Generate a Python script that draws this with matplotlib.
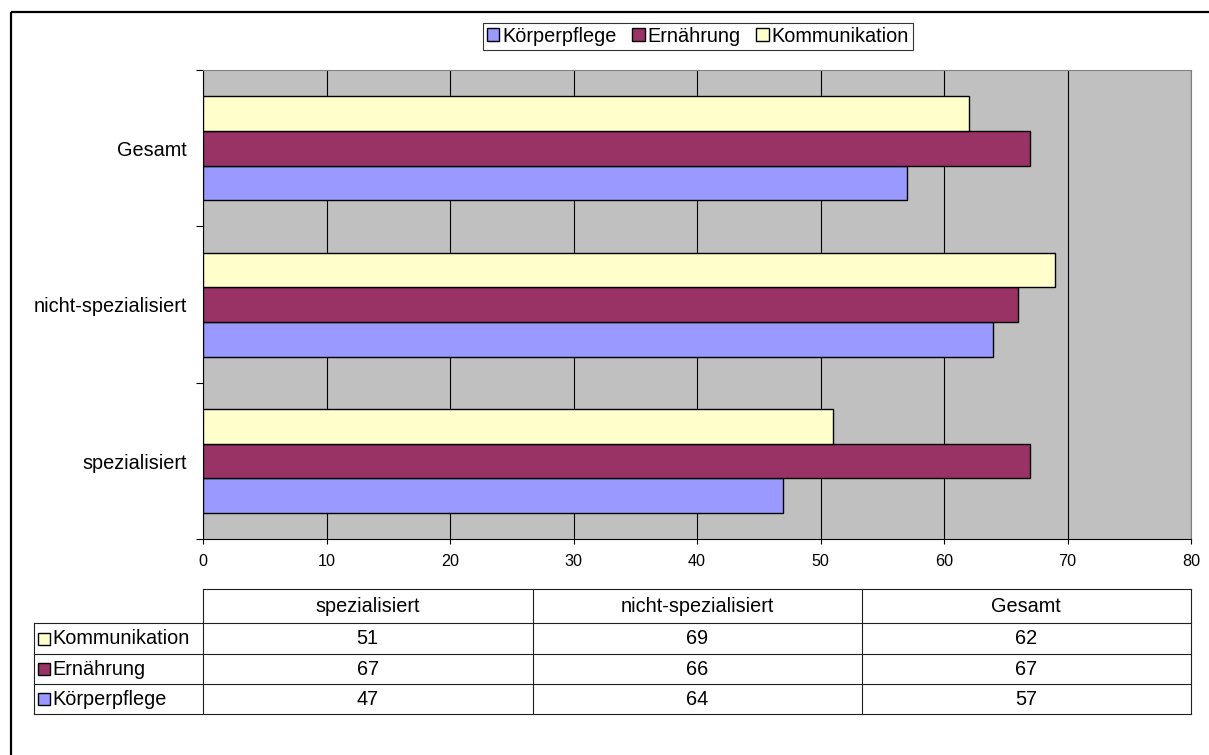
import matplotlib
matplotlib.use("Agg")
import matplotlib.pyplot as plt
from matplotlib.patches import Rectangle
import numpy as np

plt.rcParams['font.family'] = ['Liberation Sans', 'DejaVu Sans']

# data
categories = ['spezialisiert', 'nicht-spezialisiert', 'Gesamt']
series_names = ['Körperpflege', 'Ernährung', 'Kommunikation']
koerperpflege = [47, 64, 57]
ernaehrung = [67, 66, 67]
kommunikation = [51, 69, 62]
series_colors = ['#9999FF', '#993366', '#FFFFCC']
x_ticks = [0, 10, 20, 30, 40, 50, 60, 70, 80]

W, H = 1209, 755
fig = plt.figure(figsize=(W / 100, H / 100), dpi=100)


def px(x0, y0, x1, y1):
    # pixel box (top-left origin) -> figure fraction rect
    return [x0 / W, 1 - y1 / H, (x1 - x0) / W, (y1 - y0) / H]


FS = 14.3

ax = fig.add_axes(px(203, 70, 1191, 539.3))
ax.set_facecolor('#C0C0C0')

bar_h = 1 / 4.5
ypos = np.arange(len(categories))
all_vals = [koerperpflege, ernaehrung, kommunikation]
for i, (name, vals, col) in enumerate(zip(series_names, all_vals, series_colors)):
    ax.barh(ypos + (i - 1) * bar_h, vals, height=bar_h, color=col,
            edgecolor='black', linewidth=1.0, label=name, zorder=3)

ax.set_xlim(0, 80)
ax.set_ylim(-0.5, len(categories) - 0.5)
ax.set_xticks(x_ticks)
ax.set_xticklabels([str(t) for t in x_ticks])
ax.xaxis.grid(True, color='black', linewidth=0.8)
ax.set_axisbelow(True)

ax.set_yticks(np.arange(-0.5, len(categories), 1.0))
ax.set_yticklabels([])
ax.set_yticks(ypos, minor=True)
ax.set_yticklabels(categories, minor=True, fontsize=FS)
ax.tick_params(axis='y', which='minor', length=0, pad=11.5)
ax.tick_params(axis='y', which='major', length=5, width=0.8, direction='out')
ax.tick_params(axis='x', length=3.6, width=0.8, pad=7.0, labelsize=11.6)

for s in ['top', 'right']:
    ax.spines[s].set_color('#808080')
    ax.spines[s].set_linewidth(0.8)
for s in ['left', 'bottom']:
    ax.spines[s].set_color('black')
    ax.spines[s].set_linewidth(0.8)

leg = fig.legend(loc='upper center', bbox_to_anchor=(698 / W, 1 - 22.7 / H),
                 ncol=3, fontsize=FS, frameon=True, fancybox=False,
                 edgecolor='black', handlelength=0.62, handleheight=0.62,
                 handletextpad=0.14, columnspacing=0.8, borderpad=0.2,
                 borderaxespad=0)
leg.get_frame().set_linewidth(0.8)
for h in leg.legend_handles:
    h.set_edgecolor('black')
    h.set_linewidth(1.0)

# data table below the chart, drawn on a pixel overlay
tab = fig.add_axes([0, 0, 1, 1])
tab.set_xlim(0, W)
tab.set_ylim(H, 0)
tab.axis('off')
tab.patch.set_alpha(0)

col_x = [203, 532.5, 861.7, 1191]
label_x = 34
row_y = [589, 623.3, 654, 684.3, 714.3]
lc = '#202020'
lw = 0.8

# header row
tab.plot([col_x[0], col_x[-1]], [row_y[0], row_y[0]], color=lc, lw=lw)
for y in row_y[1:]:
    tab.plot([label_x, col_x[-1]], [y, y], color=lc, lw=lw)
for x in col_x:
    tab.plot([x, x], [row_y[0], row_y[-1]], color=lc, lw=lw)
tab.plot([label_x, label_x], [row_y[1], row_y[-1]], color=lc, lw=lw)

for j, cat in enumerate(categories):
    tab.text((col_x[j] + col_x[j + 1]) / 2, (row_y[0] + row_y[1]) / 2, cat,
             ha='center', va='center', fontsize=FS)

table_order = list(range(len(series_names)))[::-1]
for r, si in enumerate(table_order):
    yc = (row_y[r + 1] + row_y[r + 2]) / 2
    tab.add_patch(Rectangle((38, yc - 6), 12, 12, facecolor=series_colors[si],
                            edgecolor='black', lw=1.0))
    tab.text(52.5, yc, series_names[si], ha='left', va='center', fontsize=FS)
    for j in range(len(categories)):
        tab.text((col_x[j] + col_x[j + 1]) / 2, yc, str(all_vals[si][j]),
                 ha='center', va='center', fontsize=FS)

# outer chart frame (cut by the image edge)
tab.add_patch(Rectangle((11, 11.5), W + 20, H + 20, fill=False,
                        edgecolor='black', lw=1.6, clip_on=False))

fig.savefig('out.png', dpi=100)
